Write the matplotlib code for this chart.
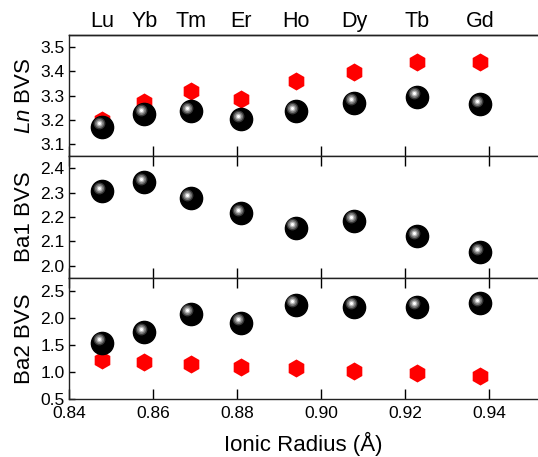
import matplotlib.pyplot as plt
from matplotlib.transforms import offset_copy

plt.rcParams['font.family'] = ['Liberation Sans', 'DejaVu Sans']
plt.rcParams['mathtext.fontset'] = 'custom'
plt.rcParams['mathtext.rm'] = 'Liberation Sans'
plt.rcParams['mathtext.it'] = 'Liberation Sans:italic'

# ionic radii (Å) and the matching lanthanides
radius = [0.848, 0.858, 0.869, 0.881, 0.894, 0.908, 0.923, 0.938]
elements = ['Lu', 'Yb', 'Tm', 'Er', 'Ho', 'Dy', 'Tb', 'Gd']

ln_black = [3.171, 3.226, 3.236, 3.202, 3.236, 3.270, 3.295, 3.265]
ln_red = [3.199, 3.274, 3.319, 3.285, 3.360, 3.397, 3.438, 3.437]
ba1_black = [2.306, 2.343, 2.278, 2.216, 2.156, 2.185, 2.120, 2.055]
ba2_black = [1.542, 1.734, 2.077, 1.911, 2.249, 2.206, 2.206, 2.279]
ba2_red = [1.224, 1.193, 1.150, 1.089, 1.077, 1.021, 0.984, 0.923]


def sphere(ax, x, y):
    # black ball with a shiny spot up and to the left
    ax.plot(x, y, 'o', color='black', markersize=16, zorder=3)
    tr = offset_copy(ax.transData, fig=ax.figure, x=-3.5, y=3.5, units='dots')
    ax.plot(x, y, 'o', color='#3a3a3a', markersize=8.5, markeredgewidth=0, transform=tr, zorder=4)
    ax.plot(x, y, 'o', color='#777777', markersize=6.5, markeredgewidth=0, transform=tr, zorder=5)
    ax.plot(x, y, 'o', color='#bbbbbb', markersize=4.2, markeredgewidth=0, transform=tr, zorder=6)
    ax.plot(x, y, 'o', color='white', markersize=2.2, markeredgewidth=0, transform=tr, zorder=7)


def hexes(ax, x, y):
    ax.plot(x, y, 'h', color='red', markersize=13, markeredgewidth=0, zorder=2)


fig = plt.figure(figsize=(5.38, 4.57), dpi=100)
gs = fig.add_gridspec(3, 1, left=0.128, right=1.0, top=0.9234, bottom=0.127, hspace=0)
axes = [fig.add_subplot(gs[i]) for i in range(3)]

hexes(axes[0], radius, ln_red)
sphere(axes[0], radius, ln_black)
sphere(axes[1], radius, ba1_black)
hexes(axes[2], radius, ba2_red)
sphere(axes[2], radius, ba2_black)

axes[0].set_ylim(3.05, 3.55)
axes[0].set_yticks([3.1, 3.2, 3.3, 3.4, 3.5])
axes[1].set_ylim(1.95, 2.45)
axes[1].set_yticks([2.0, 2.1, 2.2, 2.3, 2.4])
axes[2].set_ylim(0.5, 2.75)
axes[2].set_yticks([0.5, 1.0, 1.5, 2.0, 2.5])

axes[0].set_ylabel('$\\mathit{Ln}$ BVS', fontsize=16, labelpad=4)
axes[1].set_ylabel('Ba1 BVS', fontsize=16, labelpad=4)
axes[2].set_ylabel('Ba2 BVS', fontsize=16, labelpad=4)

for i, ax in enumerate(axes):
    ax.set_xlim(0.84, 0.9517)
    ax.set_xticks([0.84, 0.86, 0.88, 0.90, 0.92, 0.94])
    ax.spines['right'].set_visible(False)
    for s in ax.spines.values():
        s.set_linewidth(1.0)
        s.set_color('#222222')
    ax.tick_params(axis='y', direction='in', length=4, width=1, labelsize=12.5, pad=3)
    ax.tick_params(axis='x', direction='in', length=7, width=1, labelsize=12.5,
                   top=(i > 0), bottom=True, labelbottom=(i == 2), pad=5)
axes[2].set_xticklabels(['0.84', '0.86', '0.88', '0.90', '0.92', '0.94'])
axes[2].set_xlabel('Ionic Radius (Å)', fontsize=16, labelpad=8)

# element names along the top edge
top = axes[0].secondary_xaxis('top')
top.set_xticks(radius)
top.set_xticklabels(elements)
top.tick_params(length=0, labelsize=15.5, pad=2)
top.spines['top'].set_linewidth(1.0)

fig.savefig('out.png', dpi=100)
